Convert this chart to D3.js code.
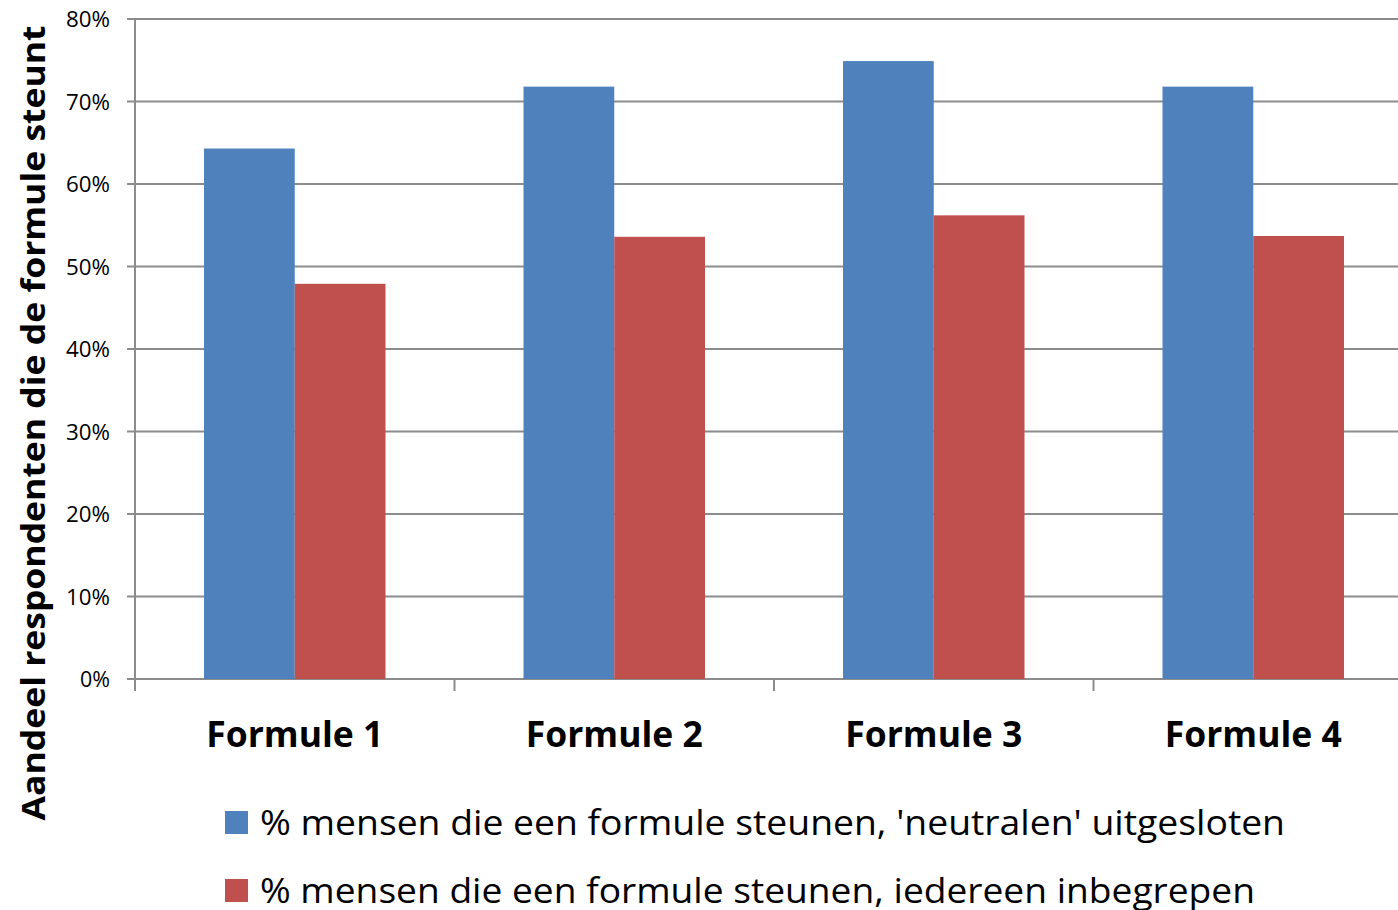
<!DOCTYPE html>
<html>
<head>
<meta charset="utf-8">
<script src="https://cdn.jsdelivr.net/npm/d3@7"></script>
<style>
  html, body { margin: 0; padding: 0; background: #fff; overflow: hidden; }
  svg { display: block; font-family: "Open Sans", "DejaVu Sans", sans-serif; }
</style>
</head>
<body>
<svg id="chart" width="1398" height="910"></svg>
<script>
// data
const categories = ['Formule 1', 'Formule 2', 'Formule 3', 'Formule 4'];
const seriesNames = [
  "% mensen die een formule steunen, 'neutralen' uitgesloten",
  '% mensen die een formule steunen, iedereen inbegrepen'
];
const neutralenUitgesloten = [64.3, 71.8, 74.9, 71.8];
const iedereenInbegrepen = [47.9, 53.6, 56.2, 53.7];
const yTicks = [0, 10, 20, 30, 40, 50, 60, 70, 80];

const colors = ['#4f81bd', '#c0504d'];
const seriesValues = [neutralenUitgesloten, iedereenInbegrepen];

const svg = d3.select('#chart');
const plotLeft = 135, plotTop = 19, plotBottom = 679;
const bandW = 319.5;

const x = d3.scaleBand().domain(categories).range([plotLeft, plotLeft + bandW * categories.length]).paddingInner(0).paddingOuter(0);
const inner = d3.scaleBand().domain([0, 1]).range([69, bandW - 69]).padding(0);
const y = d3.scaleLinear().domain([0, 80]).range([plotBottom, plotTop]);

// gridlines
svg.append('g').selectAll('line').data(yTicks).join('line')
  .attr('x1', plotLeft - 8).attr('x2', 1398)
  .attr('y1', d => y(d)).attr('y2', d => y(d))
  .attr('stroke', '#8c8c8c').attr('stroke-width', 2);

// y axis line
svg.append('line')
  .attr('x1', plotLeft).attr('x2', plotLeft).attr('y1', plotTop).attr('y2', plotBottom)
  .attr('stroke', '#8c8c8c').attr('stroke-width', 2);

// y tick labels
svg.append('g').selectAll('text').data(yTicks).join('text')
  .attr('x', 110).attr('y', d => y(d) + 8)
  .attr('text-anchor', 'end')
  .attr('font-size', 21)
  .attr('textLength', d => d === 0 ? 30 : 44)
  .attr('lengthAdjust', 'spacingAndGlyphs')
  .attr('fill', '#000')
  .text(d => d + '%');

// bars
categories.forEach((c, i) => {
  seriesValues.forEach((vals, s) => {
    svg.append('rect')
      .attr('x', x(c) + inner(s))
      .attr('y', y(vals[i]))
      .attr('width', inner.bandwidth())
      .attr('height', y(0) - y(vals[i]))
      .attr('fill', colors[s]);
  });
});

// x axis ticks
const boundaries = categories.map(c => x(c)).concat([x(categories[categories.length - 1]) + bandW]);
svg.append('g').selectAll('line').data(boundaries).join('line')
  .attr('x1', d => d).attr('x2', d => d)
  .attr('y1', plotBottom).attr('y2', plotBottom + 12)
  .attr('stroke', '#8c8c8c').attr('stroke-width', 2);

// category labels
svg.append('g').selectAll('text').data(categories).join('text')
  .attr('x', d => x(d) + bandW / 2)
  .attr('y', 747)
  .attr('text-anchor', 'middle')
  .attr('font-size', 35)
  .attr('font-weight', 'bold')
  .attr('textLength', 177)
  .attr('lengthAdjust', 'spacingAndGlyphs')
  .text(d => d);

// y axis title
svg.append('text')
  .attr('transform', 'translate(45,423) rotate(-90)')
  .attr('text-anchor', 'middle')
  .attr('font-size', 32)
  .attr('font-weight', 'bold')
  .attr('textLength', 795)
  .attr('lengthAdjust', 'spacingAndGlyphs')
  .text('Aandeel respondenten die de formule steunt');

// legend
const legend = svg.append('g').selectAll('g').data(seriesNames).join('g')
  .attr('transform', (d, i) => `translate(225,${811 + i * 68})`);
legend.append('rect')
  .attr('width', 23).attr('height', 23)
  .attr('fill', (d, i) => colors[i]);
legend.append('text')
  .attr('x', 35).attr('y', 24)
  .attr('font-size', 34)
  .attr('textLength', (d, i) => i === 0 ? 1025 : 995)
  .attr('lengthAdjust', 'spacingAndGlyphs')
  .text(d => d);
</script>
</body>
</html>
